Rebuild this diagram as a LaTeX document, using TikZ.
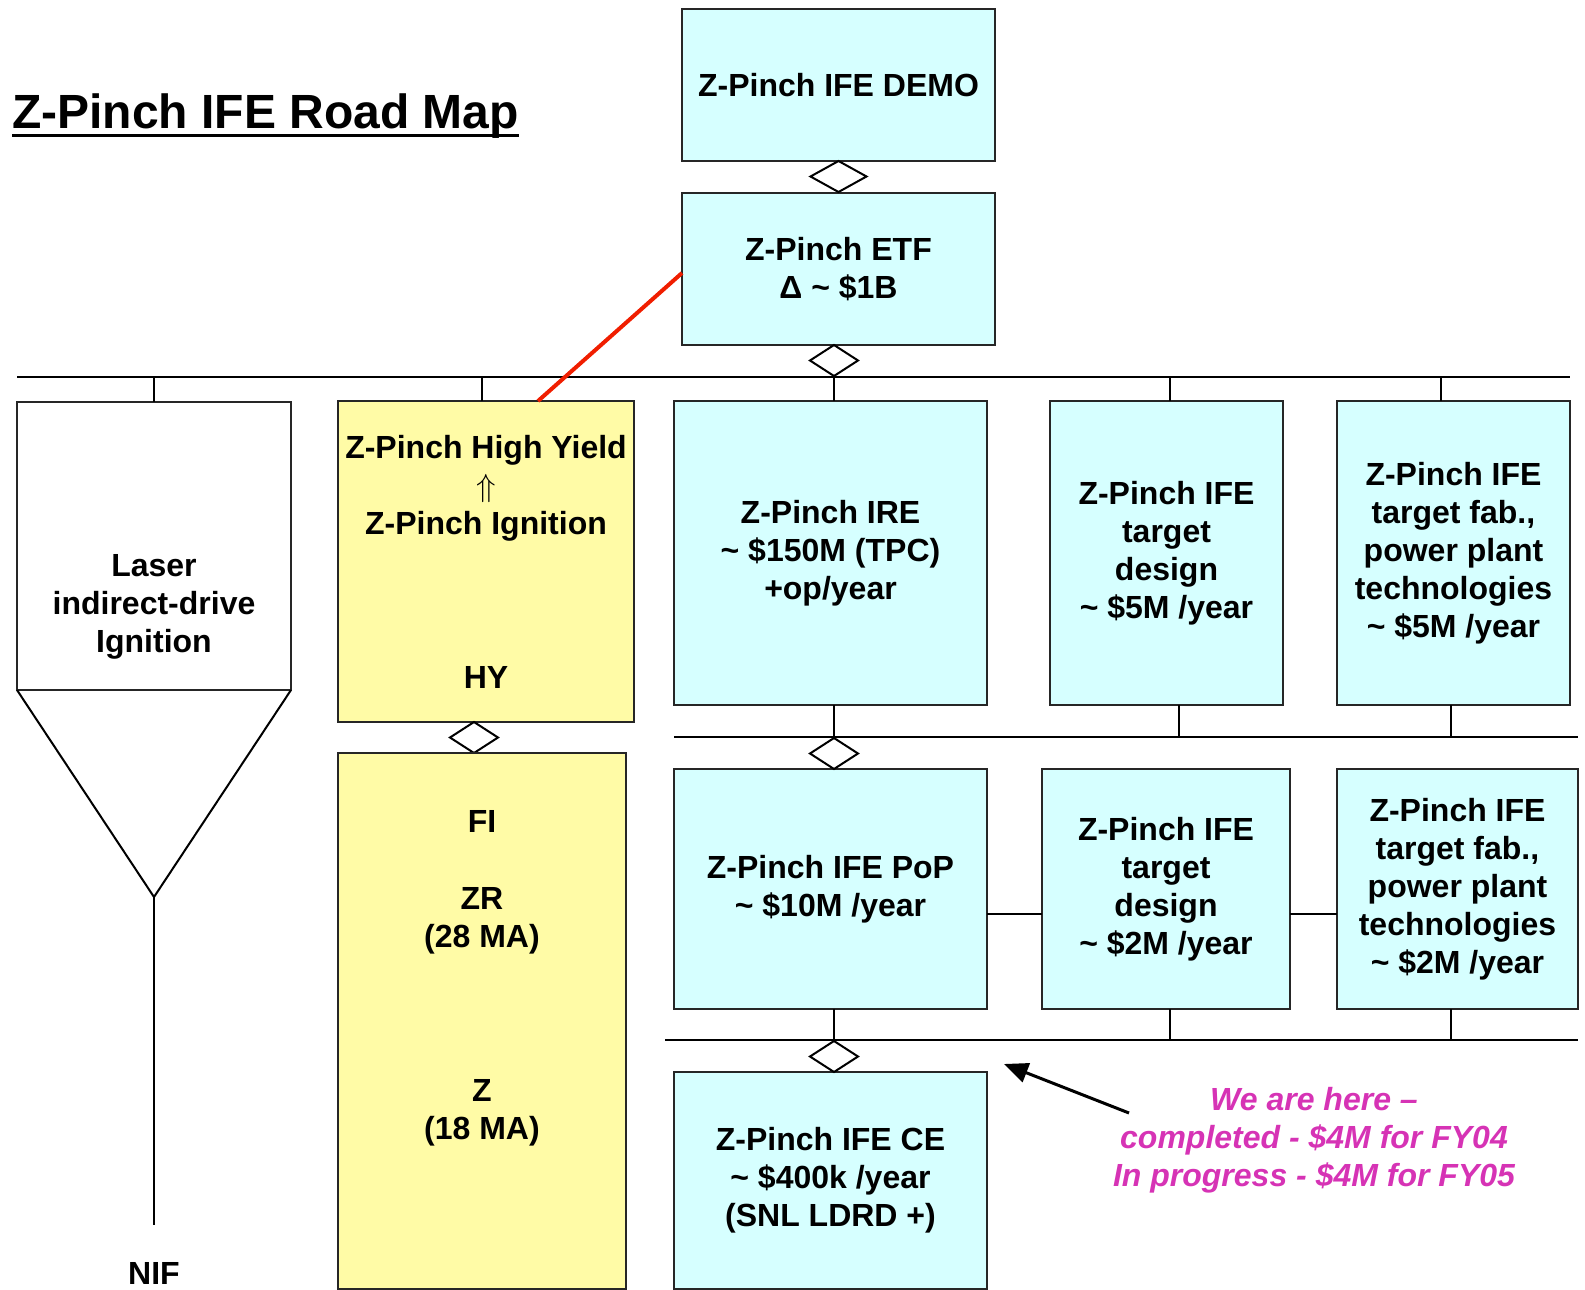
\RequirePackage{fix-cm}
\documentclass[tikz,border=0pt]{standalone}
\usepackage{fontspec}
\setmainfont{Liberation Sans}
\usetikzlibrary{arrows.meta, positioning, shapes.geometric, calc}
\definecolor{ifecyan}{RGB}{214,255,255}
\definecolor{hyyellow}{RGB}{255,251,166}
\definecolor{heremagenta}{RGB}{214,51,181}
\definecolor{etfred}{RGB}{240,30,0}
\newcommand{\boxfont}{\fontsize{32}{38}\selectfont\bfseries}

\begin{document}
\begin{tikzpicture}[
    x=1pt, y=-1pt,
    box/.style={draw=black!85, line width=2pt, align=center, inner sep=0pt, outer sep=0pt, font=\boxfont},
    cbox/.style={box, fill=ifecyan},
    ybox/.style={box, fill=hyyellow},
    wbox/.style={box, fill=white},
    txt/.style={align=center, font=\boxfont, inner sep=0pt},
    agg/.style={diamond, draw, fill=white, line width=2pt, inner sep=0pt, outer sep=0pt,
                minimum width=48pt, minimum height=31pt},
    wire/.style={line width=2pt},
    bus/.style={line width=2.5pt},
    pointer/.style={-{Triangle[length=24pt, width=20pt]}, line width=3pt},
    herelabel/.style={align=center, text=heremagenta, font=\boxfont\itshape, inner sep=0pt},
]
\useasboundingbox (0,0) rectangle (1585,1290);

% Title
\node[anchor=base west, inner sep=0pt, font=\fontsize{48}{56}\selectfont\bfseries] (title) at (12,128) {Z-Pinch IFE Road Map};
\draw[line width=3pt] ([yshift=-7pt]title.base west) -- ([yshift=-7pt]title.base east);

% DEMO and ETF
\node[cbox, minimum width=313pt, minimum height=152pt] (demo) at (838.5,85) {Z-Pinch IFE DEMO};
\node[cbox, minimum width=313pt, minimum height=152pt, below=32pt of demo] (etf) {Z-Pinch ETF\\Δ \textasciitilde\ \$1B};
\node[agg, minimum width=56pt, anchor=north] (d0) at (demo.south) {};
\node[agg, anchor=north] (d1) at ([xshift=-4.5pt]etf.south) {};

% Top row
\node[wbox, minimum width=274pt, minimum height=288pt] (laser) at (154,546) {};
\node[ybox, minimum width=296pt, minimum height=321pt] (hy) at (486,561.5) {};
\node[cbox, minimum width=313pt, minimum height=304pt] (ire) at (830.5,553) {Z-Pinch IRE\\\textasciitilde\ \$150M (TPC)\\+op/year};
\node[cbox, minimum width=233pt, minimum height=304pt] (des1) at (1166.5,553) {Z-Pinch IFE\\target\\design\\\textasciitilde\ \$5M /year};
\node[cbox, minimum width=233pt, minimum height=304pt] (fab1) at (1453.5,553) {Z-Pinch IFE\\target fab.,\\power plant\\technologies\\\textasciitilde\ \$5M /year};

\node[txt] (lasertxt) at (154,607) {Laser\\indirect-drive\\Ignition};
\node[txt] (hytxt) at (486,488) {Z-Pinch High Yield\\$\Uparrow$\\Z-Pinch Ignition};
\node[txt] (hylbl) at (486,677) {HY};

% Laser funnel down to NIF
\coordinate (apex) at (154,897);
\coordinate (nifend) at (154,1225);
\draw[wire] (laser.south west) -- (apex) -- (laser.south east);
\draw[wire] (apex) -- (nifend);
\node[txt] (nif) at (154,1273) {NIF};

% Z machines
\node[agg, anchor=north] (d2) at ([xshift=-12pt]hy.south) {};
\node[ybox, minimum width=288pt, minimum height=536pt, anchor=north] (zbox) at ([xshift=8pt]d2.south) {};
\node[txt] (fi) at (482,821) {FI};
\node[txt] (zr) at (482,921) {ZR\\(28 MA)};
\node[txt] (zlbl) at (482,1113) {Z\\(18 MA)};

% Middle row
\node[cbox, minimum width=313pt, minimum height=240pt] (pop) at (830.5,889) {Z-Pinch IFE PoP\\\textasciitilde\ \$10M /year};
\node[cbox, minimum width=248pt, minimum height=240pt] (des2) at (1166,889) {Z-Pinch IFE\\target\\design\\\textasciitilde\ \$2M /year};
\node[cbox, minimum width=241pt, minimum height=240pt] (fab2) at (1457.5,889) {Z-Pinch IFE\\target fab.,\\power plant\\technologies\\\textasciitilde\ \$2M /year};
\node[agg, anchor=south] (d3) at ([xshift=3.5pt]pop.north) {};

% Bottom
\node[cbox, minimum width=313pt, minimum height=217pt] (ce) at (830.5,1180.5) {Z-Pinch IFE CE\\\textasciitilde\ \$400k /year\\(SNL LDRD +)};
\node[agg, anchor=south] (d4) at ([xshift=3.5pt]ce.north) {};

% Bus 1
\coordinate (bus1w) at (17,377);
\coordinate (bus1e) at (1570,377);
\draw[bus] (bus1w) -- (bus1e);
\draw[wire] (d1.south) -- (d1.south |- ire.north);
\draw[wire] (laser.north) -- (laser.north |- bus1w);
\draw[wire] ([xshift=-4pt]hy.north) -- ([xshift=-4pt]hy.north |- bus1w);
\draw[wire] ([xshift=3.5pt]des1.north) -- ([xshift=3.5pt]des1.north |- bus1w);
\draw[wire] ([xshift=-12.5pt]fab1.north) -- ([xshift=-12.5pt]fab1.north |- bus1w);

% Bus 2
\coordinate (bus2w) at (674,737);
\coordinate (bus2e) at (1578,737);
\draw[bus] (bus2w) -- (bus2e);
\draw[wire] ([xshift=3.5pt]ire.south) -- ([xshift=3.5pt]ire.south |- bus2w);
\draw[wire] ([xshift=12.5pt]des1.south) -- ([xshift=12.5pt]des1.south |- bus2w);
\draw[wire] ([xshift=-3pt]fab1.south) -- ([xshift=-3pt]fab1.south |- bus2w);

% Bus 3
\coordinate (bus3w) at (665,1040);
\coordinate (bus3e) at (1578,1040);
\draw[bus] (bus3w) -- (bus3e);
\draw[wire] ([xshift=3.5pt]pop.south) -- ([xshift=3.5pt]pop.south |- bus3w);
\draw[wire] ([xshift=4pt]des2.south) -- ([xshift=4pt]des2.south |- bus3w);
\draw[wire] ([xshift=-6.5pt]fab2.south) -- ([xshift=-6.5pt]fab2.south |- bus3w);

% side links
\draw[wire] ([yshift=-25pt]pop.east) -- ([yshift=-25pt]pop.east -| des2.west);
\draw[wire] ([yshift=-25pt]des2.east) -- ([yshift=-25pt]des2.east -| fab2.west);

% red link ETF -> High Yield
\draw[line width=4pt, etfred] ([yshift=-4pt]etf.west) -- ([xshift=52pt]hy.north);

% We are here
\node[herelabel] (here) at (1314,1140) {We are here --\\completed - \$4M for FY04\\In progress - \$4M for FY05};
\coordinate (heretail) at (1129,1113);
\coordinate (heretip) at (1004,1064);
\draw[pointer] (heretail) -- (heretip);

\end{tikzpicture}
\end{document}
